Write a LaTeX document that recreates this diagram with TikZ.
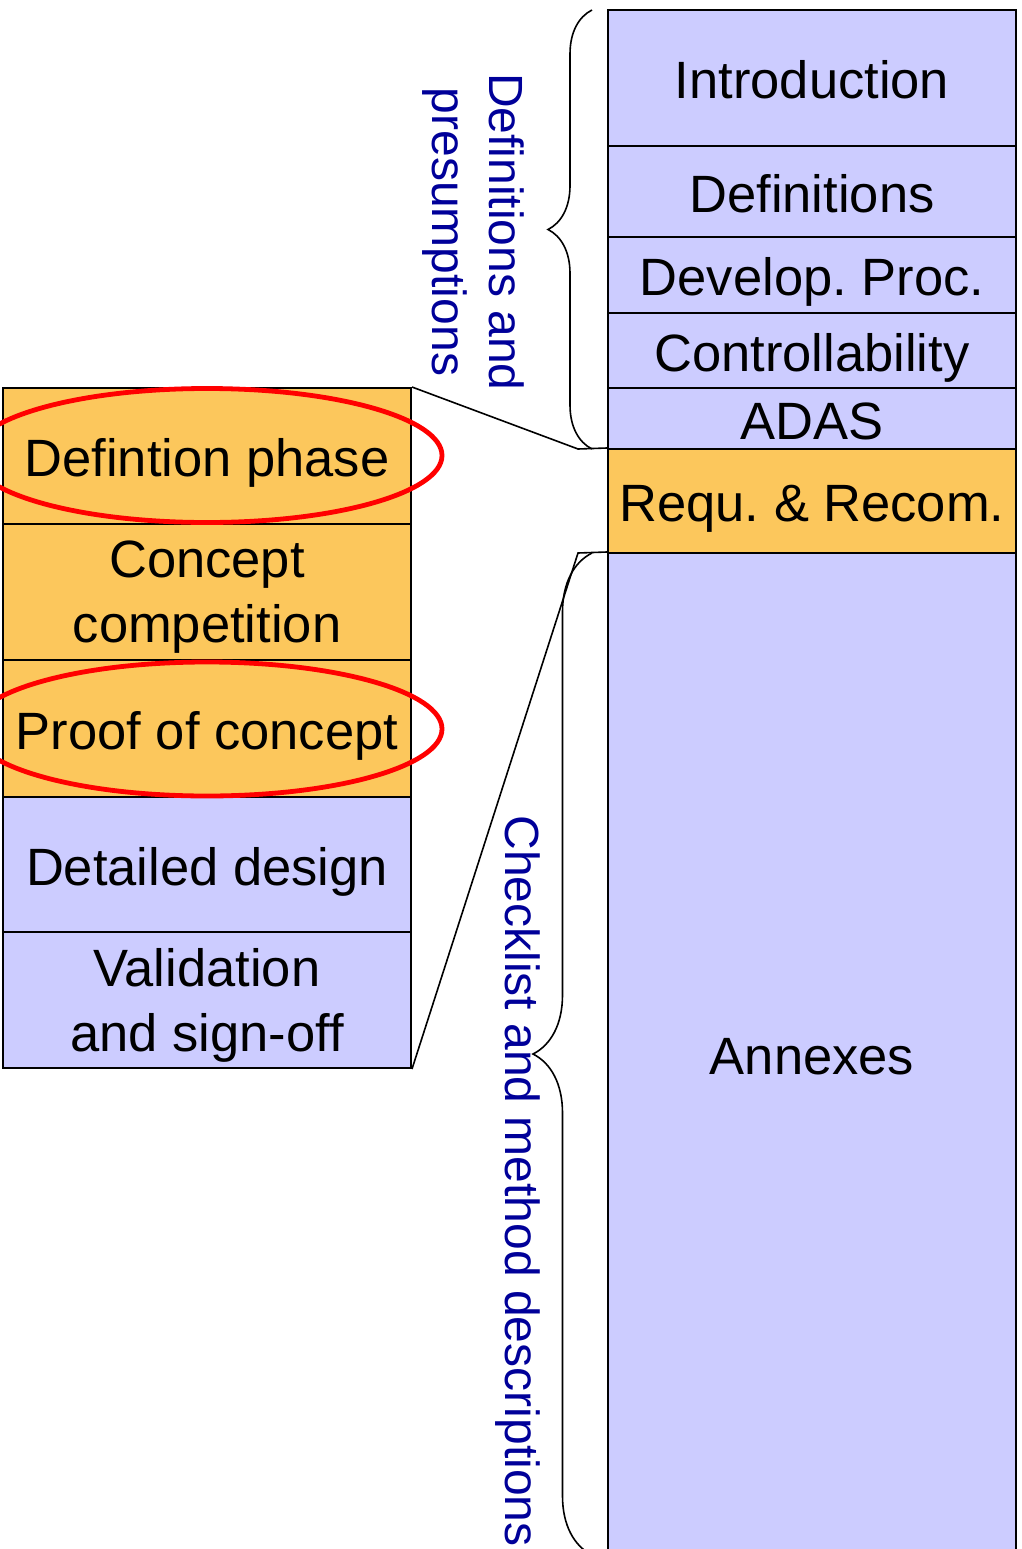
\documentclass[tikz,border=0pt]{standalone}
\usepackage{fontspec}
\setmainfont{Liberation Sans}
\usetikzlibrary{shapes.geometric,decorations.pathreplacing}

\definecolor{boxblue}{RGB}{204,204,255}
\definecolor{boxorange}{RGB}{252,199,92}
\definecolor{labelblue}{RGB}{0,0,153}

\tikzset{
  part/.style={draw=black, line width=2pt, rectangle, inner sep=0pt,
    minimum width=408pt, font=\fontsize{52.5}{65}\selectfont\frenchspacing,
    text height=41.6pt, text depth=0pt},
  partml/.style={draw=black, line width=2pt, rectangle, inner sep=0pt,
    minimum width=408pt, font=\fontsize{52.5}{65}\selectfont\frenchspacing,
    align=center, text depth=-5pt},
  bluepart/.style={fill=boxblue},
  orangepart/.style={fill=boxorange},
  sidelabel/.style={text=labelblue, rotate=-90, inner sep=0pt,
    font=\fontsize{48}{57}\selectfont, align=center},
  highlight/.style={ellipse, draw=red, line width=4.8pt, inner sep=0pt},
  zoomline/.style={draw=black, line width=1.6pt},
  bracepath/.style={draw=black, line width=1.6pt, decorate}
}

\begin{document}
\begin{tikzpicture}[x=1pt, y=-1pt]
\useasboundingbox (0,0) rectangle (1021,1549);
\clip (0,0) rectangle (1021,1549);

% right column: document structure
\node[part, bluepart,   minimum height=136pt]  (intro) at (812,78)    {Introduction};
\node[part, bluepart,   minimum height=91pt]   (defs)  at (812,191.5) {Definitions};
\node[part, bluepart,   minimum height=76pt]   (dev)   at (812,275)   {Develop. Proc.};
\node[part, bluepart,   minimum height=75pt]   (ctrl)  at (812,350.5) {Controllability};
\node[part, bluepart,   minimum height=61pt]   (adas)  at (812,418.5) {ADAS};
\node[part, orangepart, minimum height=104pt]  (req)   at (812,501)   {Requ. \& Recom.};
\node[part, bluepart,   minimum height=1002pt] (annex) at (812,1054)  {Annexes};

% left column: development phases
\node[part,   orangepart, minimum height=136pt] (ph1) at (207,456) {Defintion phase};
\node[partml, orangepart, minimum height=136pt] (ph2) at (207,592) {Concept\\competition};
\node[part,   orangepart, minimum height=137pt] (ph3) at (207,728.5) {Proof of concept};
\node[part,   bluepart,   minimum height=135pt] (ph4) at (207,864.5) {Detailed design};
\node[partml, bluepart,   minimum height=136pt] (ph5) at (207,1000) {Validation\\and sign-off};

% highlighted phases
\node[highlight, minimum width=470pt, minimum height=134pt] (hl1) at (207,455.5) {};
\node[highlight, minimum width=470pt, minimum height=134pt] (hl2) at (207,729) {};

% zoom lines from the phase list to the requirements part
\coordinate (za) at (578,449);
\coordinate (zb) at (578,553);
\draw[zoomline] (ph1.north east) -- (za) -- (req.north west);
\draw[zoomline] (ph5.south east) -- (zb) -- (annex.north west);

% braces
\draw[bracepath, decoration={brace, amplitude=44pt}] (592,449) -- (592,10);
\draw[bracepath, decoration={brace, amplitude=59pt}] (592,1555) -- (592,553);

% brace labels
\node[sidelabel, text depth=0pt] (lbl1) at (478.5,232) {Definitions and\\presumptions};
\node[sidelabel, text height=34.4pt, text depth=0pt] (lbl2) at (522.5,1181) {Checklist and method descriptions};
\end{tikzpicture}
\end{document}
